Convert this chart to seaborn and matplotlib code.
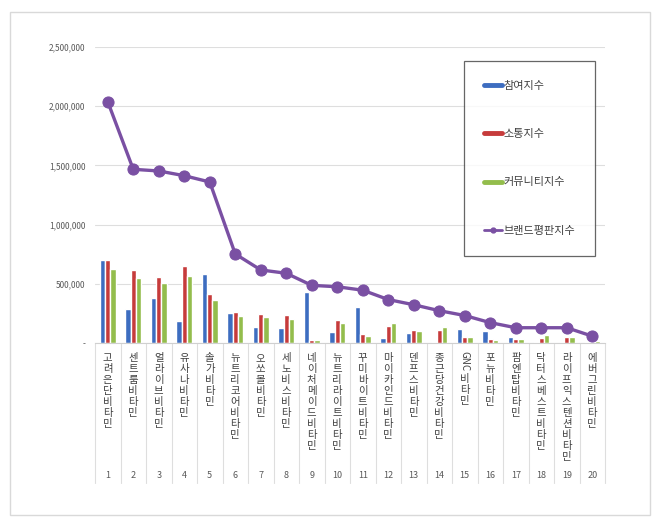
import numpy as np
import pandas as pd
import matplotlib
matplotlib.use("Agg")
import matplotlib.pyplot as plt
import seaborn as sns
from matplotlib.lines import Line2D
from matplotlib.patches import Rectangle

brands = [
    "고려은단 비타민", "센트룸 비타민", "얼라이브 비타민", "유사나 비타민", "솔가 비타민",
    "뉴트리코어 비타민", "오쏘몰 비타민", "세노비스 비타민", "네이처메이드 비타민", "뉴트리라이트 비타민",
    "꾸미바이트 비타민", "마이카인드 비타민", "덴프스 비타민", "종근당건강 비타민", "GNC 비타민",
    "포뉴 비타민", "팜엔탑 비타민", "닥터스베스트 비타민", "라이프익스텐션 비타민", "에버그린 비타민",
]
ranks = list(range(1, 21))

participation = [698000, 284000, 380000, 183000, 580000, 253000, 135000, 130000, 428000, 96000,
                 300000, 44000, 86000, 12000, 121000, 98000, 51000, 7000, 7000, 6000]
communication = [698000, 619000, 555000, 653000, 411000, 262000, 245000, 239000, 22000, 197000,
                 77000, 144000, 114000, 114000, 47000, 34000, 35000, 40000, 52000, 6000]
community = [628000, 552000, 504000, 566000, 360000, 228000, 217000, 206000, 22000, 172000,
             62000, 168000, 103000, 138000, 52000, 23000, 30000, 69000, 52000, 18000]
brand_index = [2038000, 1467000, 1453000, 1413000, 1360000, 752000, 617000, 589000, 487000, 475000,
               446000, 367000, 323000, 273000, 232000, 172000, 129000, 129000, 129000, 58000]

series_names = ["참여지수", "소통지수", "커뮤니티지수"]
line_name = "브랜드평판지수"
colors = ["#3D6DC0", "#C63B3B", "#93BD4C"]
purple = "#7A50A3"

df = pd.DataFrame({
    "rank": ranks * 3,
    "metric": sum([[n] * 20 for n in series_names], []),
    "value": participation + communication + community,
})

sns.set_style("white")
plt.rcParams["font.family"] = ["Noto Sans CJK KR", "DejaVu Sans"]

fig = plt.figure(figsize=(6.6, 5.24), dpi=100)
ax = fig.add_axes([95 / 660, 1 - 343 / 524, 510 / 660, 296 / 524])

# outer frame
fig.patches.append(Rectangle((10 / 660, 1 - 515 / 524), 640 / 660, 503 / 524,
                             transform=fig.transFigure, fill=False,
                             edgecolor="#d9d9d9", linewidth=1))

sns.barplot(data=df, x="rank", y="value", hue="metric", hue_order=series_names,
            palette=colors, width=0.62, gap=0.04, legend=False, ax=ax, saturation=1)

sns.lineplot(x=np.arange(len(ranks)), y=brand_index, color=purple, linewidth=2.4,
             marker="o", markersize=8, markeredgecolor=purple, ax=ax)

ax.set_xlim(-0.5, len(ranks) - 0.5)
ax.set_ylim(0, 2500000)
yt = list(range(0, 2500001, 500000))
ax.set_yticks(yt)
ax.set_yticklabels(["-" if v == 0 else f"{v:,}" for v in yt], fontsize=6, color="#595959")
ax.tick_params(axis="y", length=0, pad=7)
ax.set_xticks([])
ax.set_xlabel("")
ax.set_ylabel("")
ax.grid(axis="y", color="#dedede", linewidth=0.8)
ax.set_axisbelow(True)
for s in ["top", "right", "left"]:
    ax.spines[s].set_visible(False)
ax.spines["bottom"].set_color("#d0d0d0")
ax.spines["bottom"].set_linewidth(0.8)

# category labels: stacked characters
ph = 296.0
for i, name in enumerate(brands):
    chars = [c for c in name if c != " "]
    y0 = 15.0
    if name.startswith("GNC"):
        ax.text(i, -18.5 / ph, "GNC", rotation=-90, ha="center", va="center",
                fontsize=7, color="#404040", transform=ax.get_xaxis_transform(), clip_on=False)
        chars = chars[3:]
        y0 = 36.0
    for j, ch in enumerate(chars):
        ax.text(i, -(y0 + j * 11.0) / ph, ch, ha="center", va="center", fontsize=7.5,
                color="#404040", transform=ax.get_xaxis_transform(), clip_on=False)
    ax.text(i, -132 / ph, str(ranks[i]), ha="center", va="center", fontsize=6.5,
            color="#595959", transform=ax.get_xaxis_transform(), clip_on=False)

for k in range(len(ranks) + 1):
    ax.plot([k - 0.5, k - 0.5], [0, -140 / ph], color="#dedede", linewidth=0.8,
            transform=ax.get_xaxis_transform(), clip_on=False)

handles = [Line2D([], [], color=c, linewidth=3.5) for c in colors]
handles.append(Line2D([], [], color=purple, linewidth=2, marker="o", markersize=3.5))
leg = fig.legend(handles, series_names + [line_name], loc="upper left",
                 bbox_to_anchor=(464 / 660, 1 - 61 / 524), fontsize=8,
                 frameon=True, fancybox=False, borderpad=1.78, labelspacing=3.45,
                 handlelength=1.6, handletextpad=0.15, borderaxespad=0)
leg.get_frame().set_edgecolor("#404040")
leg.get_frame().set_linewidth(0.9)
for t in leg.get_texts():
    t.set_color("#404040")

fig.savefig("out.png", dpi=100)
